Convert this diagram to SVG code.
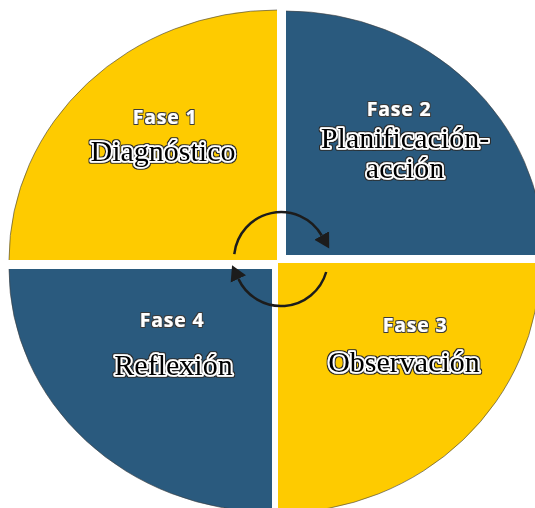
<svg xmlns="http://www.w3.org/2000/svg" width="535" height="508" viewBox="0 0 535 508">
<defs>
<style>
.y{fill:#FECB00}
.b{fill:#2A5A7E}
.rim{fill:none;stroke:#3d3d3d;stroke-width:1;stroke-opacity:.6}
.ph{font-family:"Open Sans",Lato,sans-serif;font-weight:700;font-size:19.5px;letter-spacing:0.8px;fill:#fff;text-anchor:middle;filter:url(#o1)}
.tt{font-family:"Liberation Serif","DejaVu Serif",serif;font-size:30px;fill:#000;stroke:#fff;stroke-width:3.6;stroke-linejoin:round;paint-order:stroke fill;text-anchor:middle;filter:url(#o2)}
.arc{fill:none;stroke:#1c1c1c;stroke-width:2.5}
</style>
<filter id="o1" x="-10%" y="-30%" width="120%" height="160%">
<feMorphology in="SourceAlpha" operator="dilate" radius="0.8" result="d"/>
<feFlood flood-color="#3a3a3a"/>
<feComposite in2="d" operator="in" result="e"/>
<feMerge><feMergeNode in="e"/><feMergeNode in="SourceGraphic"/></feMerge>
</filter>
<filter id="o2" x="-10%" y="-30%" width="120%" height="160%">
<feMorphology in="SourceAlpha" operator="dilate" radius="0.8" result="d"/>
<feFlood flood-color="#2a2a2a"/>
<feComposite in2="d" operator="in" result="e"/>
<feMerge><feMergeNode in="e"/><feMergeNode in="SourceGraphic"/></feMerge>
</filter>
<marker id="ah" markerUnits="userSpaceOnUse" viewBox="0 -9 16 18" markerWidth="16" markerHeight="18" refX="0" refY="0" orient="auto">
<path d="M0,-8.5 L15,0 L0,8.5 Z" fill="#1c1c1c"/>
</marker>
</defs>
<rect width="535" height="508" fill="#fff"/>
<g id="phase1">
<path class="y" d="M277,260 L9,260 A268,250 0 0 1 277,10 Z"/>
<path class="rim" d="M9,260 A268,250 0 0 1 277,10"/>
<text class="ph" x="165" y="124">Fase 1</text>
<text class="tt" x="163" y="161">Diagnóstico</text>
</g>
<g id="phase2">
<path class="b" d="M286,255 L286,11 A258,244 0 0 1 544,255 Z"/>
<path class="rim" d="M286,11 A258,244 0 0 1 544,255"/>
<text class="ph" x="399" y="116">Fase 2</text>
<text class="tt" x="405" y="148">Planificación-</text>
<text class="tt" x="405" y="178">acción</text>
</g>
<g id="phase3">
<path class="y" d="M278,263 L540,263 A262,250 0 0 1 278,513 Z"/>
<path class="rim" d="M540,263 A262,250 0 0 1 278,513"/>
<text class="ph" x="415" y="332">Fase 3</text>
<text class="tt" x="404" y="372">Observación</text>
</g>
<g id="phase4">
<path class="b" d="M272,269 L272,512 A263,243 0 0 1 9,269 Z"/>
<path class="rim" d="M272,512 A263,243 0 0 1 9,269"/>
<text class="ph" x="172" y="327">Fase 4</text>
<text class="tt" x="173.5" y="375">Reflexión</text>
</g>
<g id="connectors">
<path class="arc" d="M234.3,254.1 A47,47 0 0 1 321.7,235.5" marker-end="url(#ah)"/>
<path class="arc" d="M326.2,272 A47,47 0 0 1 238.4,278.9" marker-end="url(#ah)"/>
</g>
</svg>
